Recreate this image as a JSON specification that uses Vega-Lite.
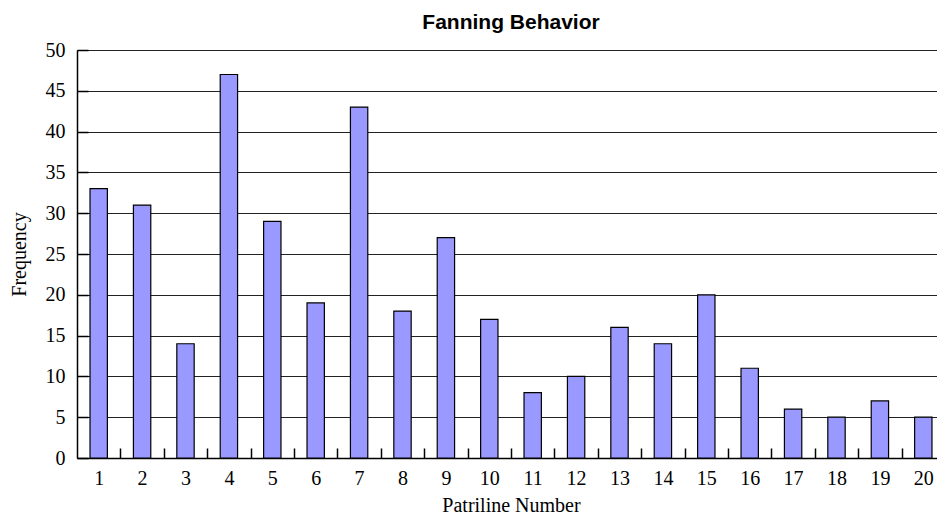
{
  "$schema": "https://vega.github.io/schema/vega-lite/v6.json",
  "width": 868,
  "height": 408,
  "autosize": "none",
  "padding": {"left": 77, "top": 50, "right": 0, "bottom": 58},
  "background": "white",
  "title": {"text": "Fanning Behavior", "font": "Liberation Sans", "fontSize": 21, "fontWeight": "bold", "color": "black", "offset": 7},
  "data": {"values": [
    {"patriline": "1", "frequency": 33},
    {"patriline": "2", "frequency": 31},
    {"patriline": "3", "frequency": 14},
    {"patriline": "4", "frequency": 47},
    {"patriline": "5", "frequency": 29},
    {"patriline": "6", "frequency": 19},
    {"patriline": "7", "frequency": 43},
    {"patriline": "8", "frequency": 18},
    {"patriline": "9", "frequency": 27},
    {"patriline": "10", "frequency": 17},
    {"patriline": "11", "frequency": 8},
    {"patriline": "12", "frequency": 10},
    {"patriline": "13", "frequency": 16},
    {"patriline": "14", "frequency": 14},
    {"patriline": "15", "frequency": 20},
    {"patriline": "16", "frequency": 11},
    {"patriline": "17", "frequency": 6},
    {"patriline": "18", "frequency": 5},
    {"patriline": "19", "frequency": 7},
    {"patriline": "20", "frequency": 5}
  ]},
  "mark": {"type": "bar", "color": "#9999FF", "stroke": "black", "strokeWidth": 1.2},
  "encoding": {
    "x": {
      "field": "patriline", "type": "ordinal", "sort": null,
      "scale": {"paddingInner": 0.6, "paddingOuter": 0.3},
      "axis": {
        "title": "Patriline Number", "titleFont": "Liberation Serif", "titleFontSize": 20, "titleFontWeight": "normal", "titleColor": "black", "titlePadding": 7,
        "labelFont": "Liberation Serif", "labelFontSize": 20, "labelColor": "black", "labelAngle": 0, "labelPadding": 20,
        "tickOffset": 21.7, "labelOffset": -21.7,
        "tickSize": -10, "tickColor": "black", "tickWidth": 1.5,
        "domainColor": "black", "domainWidth": 1.5, "grid": false
      }
    },
    "y": {
      "field": "frequency", "type": "quantitative",
      "scale": {"domain": [0, 50], "nice": false},
      "axis": {
        "title": "Frequency", "titleFont": "Liberation Serif", "titleFontSize": 20, "titleFontWeight": "normal", "titleColor": "black", "titlePadding": 16,
        "values": [0, 5, 10, 15, 20, 25, 30, 35, 40, 45, 50],
        "labelFont": "Liberation Serif", "labelFontSize": 20, "labelColor": "black", "labelPadding": 23,
        "tickSize": -11, "tickColor": "black", "tickWidth": 1.5,
        "domainColor": "black", "domainWidth": 1.5,
        "grid": true, "gridColor": "#222", "gridWidth": 1
      }
    }
  },
  "config": {"view": {"stroke": null}}
}
